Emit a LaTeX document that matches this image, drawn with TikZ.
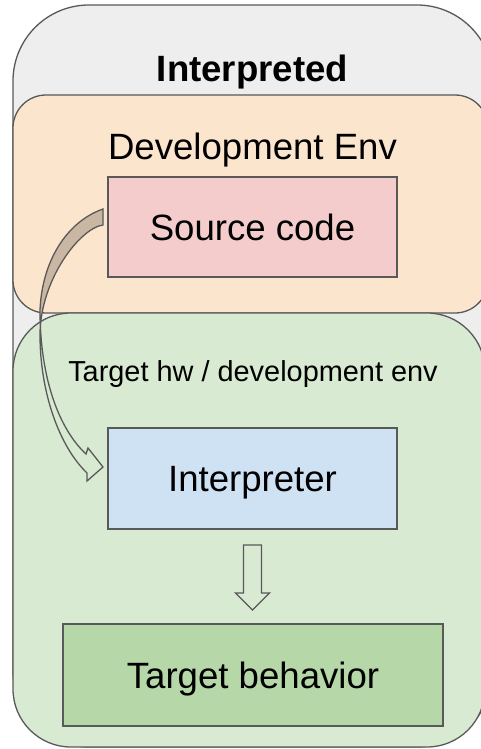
\documentclass[tikz,border=0pt]{standalone}
\usepackage{fontspec}
\setmainfont{Liberation Sans}
\usetikzlibrary{calc}
\definecolor{edgec}{HTML}{595959}
\definecolor{outerc}{HTML}{EEEEEE}
\definecolor{devc}{HTML}{FCE5CD}
\definecolor{envc}{HTML}{D9EAD3}
\definecolor{srcc}{HTML}{F4CCCC}
\definecolor{intc}{HTML}{CFE2F3}
\definecolor{tgtc}{HTML}{B6D7A8}
\definecolor{backc}{HTML}{C9B6A3}
\newcommand{\bigtxt}{\fontsize{36.6}{44}\selectfont}
\newcommand{\midtxt}{\fontsize{28.9}{34}\selectfont}
\begin{document}
\begin{tikzpicture}[x=1pt,y=-1pt,
  panel/.style={draw=edgec, line width=1.3pt, inner sep=0pt, outer sep=0pt, rectangle},
  boxnode/.style={panel, font=\bigtxt, text height=26.2pt, text depth=0pt},
  blockarrow/.style={draw=edgec, line width=1.3pt, line join=miter}]
\useasboundingbox (0,0) rectangle (481,749);
\clip (0,0) rectangle (481,749);
% containers
\node[panel, fill=outerc, rounded corners=76pt, minimum width=480pt, minimum height=742pt] (outer) at (253,376) {};
\node[panel, fill=devc, rounded corners=33pt, minimum width=475pt, minimum height=218pt] (dev) at (250.5,204) {};
\node[panel, fill=envc, rounded corners=58pt, minimum width=472pt, minimum height=434pt] (env) at (249,530) {};
% titles
\node[anchor=base, font=\bigtxt\bfseries, inner sep=0pt] (ttl) at (252.5,82) {Interpreted};
\node[anchor=base, font=\bigtxt, inner sep=0pt] (devttl) at (252.5,159) {Development Env};
\node[anchor=base, font=\midtxt, inner sep=0pt] (envttl) at (253,381) {Target hw / development env};
% boxes
\node[boxnode, fill=srcc, minimum width=289pt, minimum height=100pt] (src) at (252.5,227) {Source code};
\node[boxnode, fill=intc, minimum width=289pt, minimum height=101pt] (interp) at (252.5,478.5) {Interpreter};
\node[boxnode, fill=tgtc, minimum width=380pt, minimum height=102pt] (tgt) at (253,675) {Target behavior};
% curved arrow from src to interp
\begin{scope}[shift={(src.west)}]
  \begin{scope}
    \clip (-100,-40) rectangle (10,93);
    \fill[backc] (-5,-18) .. controls (-42,-5) and (-66,35) .. (-68,83)
      .. controls (-68,153) and (-48,203) .. (-22,227)
      -- (-20,221) -- (-5,240) -- (-21,254) -- (-21,246)
      .. controls (-50,218) and (-68,163) .. (-68,108)
      .. controls (-68,53) and (-28,1) .. (-5,-2) -- cycle;
  \end{scope}
  \draw[blockarrow] (-5,-18) .. controls (-42,-5) and (-66,35) .. (-68,83)
      .. controls (-68,153) and (-48,203) .. (-22,227)
      -- (-20,221) -- (-5,240) -- (-21,254) -- (-21,246)
      .. controls (-50,218) and (-68,163) .. (-68,108)
      .. controls (-68,53) and (-28,1) .. (-5,-2) -- cycle;
\end{scope}
% down arrow from interp to tgt
\begin{scope}[shift={(interp.south)}]
  \draw[blockarrow] (-9,16) -- (-9,64) -- (-17,64) -- (0,81) -- (17,64) -- (9,64) -- (9,16) -- cycle;
\end{scope}
\end{tikzpicture}
\end{document}
